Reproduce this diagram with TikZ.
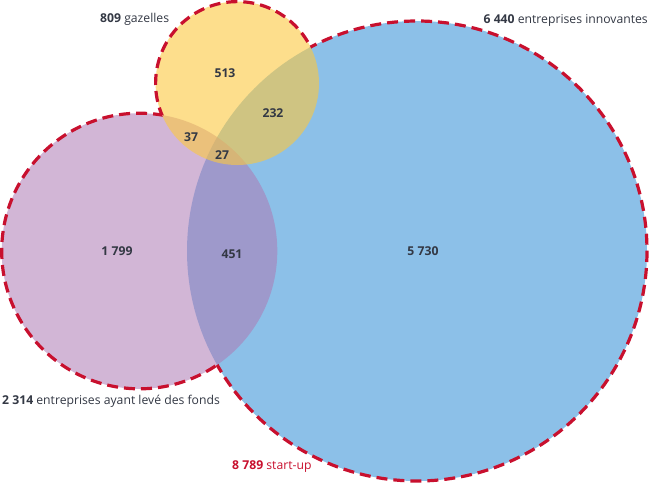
\documentclass[tikz,border=0pt]{standalone}
\usepackage{fontspec}
\setmainfont{Open Sans}
\usetikzlibrary{positioning}

\definecolor{innoblue}{RGB}{140,192,232}
\definecolor{fundpurple}{RGB}{173,122,180}
\definecolor{gazyellow}{RGB}{252,200,63}
\definecolor{startred}{RGB}{200,16,46}
\definecolor{labelgray}{RGB}{51,56,68}

\tikzset{
  setlabel/.style={font=\fontsize{12.2}{14}\selectfont,text=labelgray,inner sep=0pt},
  countlabel/.style={font=\fontsize{12.2}{14}\selectfont\bfseries,text=labelgray,inner sep=0pt},
  outline/.style={draw=startred,line width=3.2pt,dash pattern=on 11pt off 6pt}
}

\begin{document}
\begin{tikzpicture}[x=1pt,y=-1pt]
    \useasboundingbox (0,0) rectangle (650,483);

    % circle centres
    \coordinate (inno) at (417,251);
    \coordinate (fund) at (139.5,251);
    \coordinate (gaz) at (237.3,83.3);

    % Filled sets
    \fill[innoblue] (inno) circle (230);
    \fill[fundpurple,fill opacity=0.55] (fund) circle (137.8);
    \fill[gazyellow,fill opacity=0.6] (gaz) circle (81.7);

    % Dashed outline of the union (start-up)
    \begin{scope}[even odd rule]
        \clip (-20,-20) rectangle (670,503) (fund) circle (137.8);
        \clip (-20,-20) rectangle (670,503) (gaz) circle (81.7);
        \draw[outline] (inno) circle (230);
    \end{scope}
    \begin{scope}[even odd rule]
        \clip (-20,-20) rectangle (670,503) (inno) circle (230);
        \clip (-20,-20) rectangle (670,503) (gaz) circle (81.7);
        \draw[outline] (fund) circle (137.8);
    \end{scope}
    \begin{scope}[even odd rule]
        \clip (-20,-20) rectangle (670,503) (inno) circle (230);
        \clip (-20,-20) rectangle (670,503) (fund) circle (137.8);
        \draw[outline] (gaz) circle (81.7);
    \end{scope}

    % Region counts
    \foreach \name/\pos/\val in {gonly/{(225,73)}/513, gi/{(273,113)}/232,
        gf/{(191,137)}/37, gfi/{(222,155)}/27, fonly/{(117,251)}/1 799,
        fi/{(232,254)}/451, ionly/{(423,251)}/5 730} {
        \node[countlabel] (\name) at \pos {\val};
    }

    % Set names
    \node[setlabel,anchor=west] (gazname) at (100,19) {\textbf{809} gazelles};
    \node[setlabel,anchor=east] (inname) at (648,20) {\textbf{6 440} entreprises innovantes};
    \node[setlabel,anchor=west] (fundname) at (2,401) {\textbf{2 314} entreprises ayant levé des fonds};
    \node[setlabel,anchor=west,text=startred] (startname) at (232,467) {\textbf{8 789} start-up};
\end{tikzpicture}
\end{document}
